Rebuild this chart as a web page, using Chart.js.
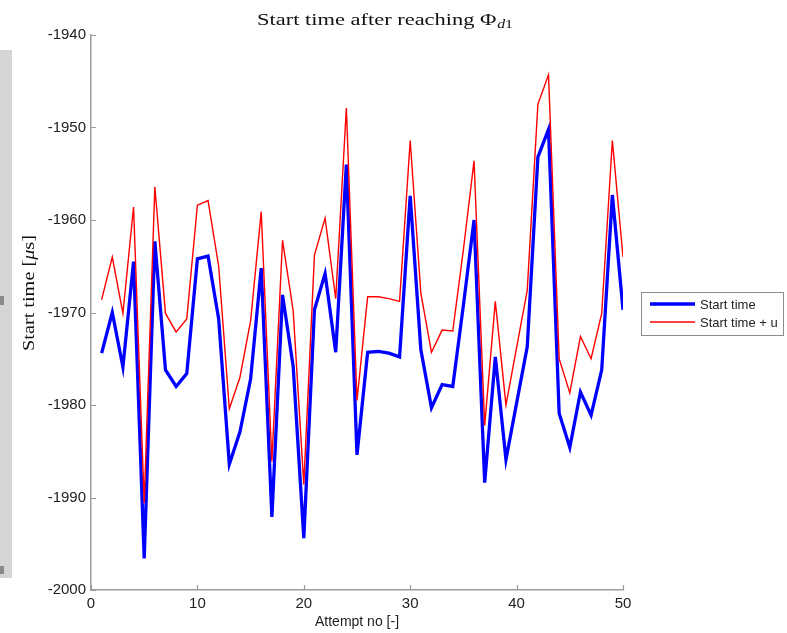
<!DOCTYPE html>
<html>
<head>
<meta charset="utf-8">
<script src="https://cdn.jsdelivr.net/npm/chart.js@4/dist/chart.umd.min.js"></script>
<style>
  html, body { margin: 0; padding: 0; background: #fff; }
  #wrap { position: relative; width: 787px; height: 633px; overflow: hidden; }
  #side { position: absolute; left: 0; top: 50px; width: 12px; height: 528px; background: #d5d5d5; }
  .mark { position: absolute; left: 0; width: 4px; background: #8a8a8a; }
  canvas { position: absolute; left: 0; top: 0; }
</style>
</head>
<body>
<div id="wrap">
  <div id="side"></div>
  <div class="mark" style="top:296px;height:9px;"></div>
  <div class="mark" style="top:566px;height:8px;"></div>
  <canvas id="chart" width="787" height="633"></canvas>
</div>
<script>
// Attempt numbers
const attempts = [1, 2, 3, 4, 5, 6, 7, 8, 9, 10,
                  11, 12, 13, 14, 15, 16, 17, 18, 19, 20,
                  21, 22, 23, 24, 25, 26, 27, 28, 29, 30,
                  31, 32, 33, 34, 35, 36, 37, 38, 39, 40,
                  41, 42, 43, 44, 45, 46, 47, 48, 49, 50];

// Start time [µs]
const startTime = [-1974.4, -1970.0, -1975.9, -1964.5, -1996.6, -1962.3, -1976.2, -1978.0, -1976.6, -1964.2,
                   -1963.9, -1970.7, -1986.4, -1982.9, -1977.2, -1965.2, -1992.1, -1968.1, -1975.8, -1994.4,
                   -1969.7, -1965.8, -1974.3, -1954.0, -1985.4, -1974.3, -1974.2, -1974.4, -1974.8, -1957.4,
                   -1974.0, -1980.3, -1977.8, -1978.0, -1969.2, -1960.0, -1988.4, -1974.8, -1985.9, -1979.8,
                   -1973.7, -1953.2, -1950.2, -1980.9, -1984.6, -1978.6, -1981.1, -1976.2, -1957.3, -1969.7];

// Start time + u [µs]
const startTimePlusU = [-1968.6, -1964.0, -1970.1, -1958.6, -1990.6, -1956.4, -1970.1, -1972.1, -1970.7, -1958.4,
                        -1957.9, -1965.0, -1980.4, -1977.0, -1970.9, -1959.1, -1986.1, -1962.2, -1969.8, -1988.6,
                        -1963.8, -1959.8, -1968.5, -1947.9, -1979.5, -1968.3, -1968.3, -1968.5, -1968.8, -1951.4,
                        -1967.9, -1974.3, -1971.9, -1972.0, -1963.2, -1953.6, -1982.2, -1968.8, -1980.0, -1973.8,
                        -1967.6, -1947.5, -1944.3, -1975.0, -1978.7, -1972.6, -1975.0, -1970.1, -1951.4, -1964.0];

const xTicks = [0, 10, 20, 30, 40, 50];
const yTicks = [-2000, -1990, -1980, -1970, -1960, -1950, -1940];

const seriesNames = ['Start time', 'Start time + u'];
const titleText = 'Start time after reaching \u03A6';
const xTitle = 'Attempt no [-]';

const axisColor = '#9c9c9c';
const sansFont = '"Liberation Sans", Arial, sans-serif';
const serifFont = '"Liberation Serif", "DejaVu Serif", serif';

const toPoints = (ys) => attempts.map((a, i) => ({ x: a, y: ys[i] }));

const decorPlugin = {
  id: 'decor',
  afterDraw(chart) {
    const ctx = chart.ctx;
    const xs = chart.scales.x, ys = chart.scales.y;
    const area = chart.chartArea;
    ctx.save();

    // inward tick marks
    ctx.strokeStyle = axisColor;
    ctx.lineWidth = 1.2;
    ctx.beginPath();
    xTicks.forEach(v => {
      const px = Math.round(xs.getPixelForValue(v)) + 0.5;
      ctx.moveTo(px, area.bottom);
      ctx.lineTo(px, area.bottom - 5);
    });
    yTicks.forEach(v => {
      const py = Math.round(ys.getPixelForValue(v)) + 0.5;
      ctx.moveTo(area.left, py);
      ctx.lineTo(area.left + 5, py);
    });
    ctx.stroke();

    // title, stretched horizontally to its printed width
    ctx.fillStyle = '#111';
    ctx.textBaseline = 'alphabetic';
    ctx.textAlign = 'left';
    const tSize = 17;
    ctx.font = tSize + 'px ' + serifFont;
    const tw = ctx.measureText(titleText).width;
    const subSize = 12;
    ctx.font = 'italic ' + subSize + 'px ' + serifFont;
    const dw = ctx.measureText('d').width;
    ctx.font = subSize + 'px ' + serifFont;
    const ow = ctx.measureText('1').width;
    const fullW = tw + 0.5 + dw + ow;
    ctx.translate(257, 25);
    ctx.scale(256 / fullW, 1);
    ctx.font = tSize + 'px ' + serifFont;
    ctx.fillText(titleText, 0, 0);
    ctx.font = 'italic ' + subSize + 'px ' + serifFont;
    ctx.fillText('d', tw + 0.5, 3);
    ctx.font = subSize + 'px ' + serifFont;
    ctx.fillText('1', tw + 0.5 + dw, 3);
    ctx.setTransform(1, 0, 0, 1, 0, 0);

    // y-axis title: "Start time [µs]" with italic µ
    const p1 = 'Start time [', p2 = '\u03BC', p3 = 's]';
    ctx.font = '17px ' + serifFont;
    const w1 = ctx.measureText(p1).width;
    ctx.font = 'italic 17px ' + serifFont;
    const w2 = ctx.measureText(p2).width;
    ctx.font = '17px ' + serifFont;
    const w3 = ctx.measureText(p3).width;
    const total = w1 + w2 + w3;
    const targetLen = 116;
    ctx.translate(34, 293);
    ctx.rotate(-Math.PI / 2);
    ctx.scale(targetLen / total, 1);
    let cx = -total / 2;
    ctx.font = '17px ' + serifFont;
    ctx.fillText(p1, cx, 0); cx += w1;
    ctx.font = 'italic 17px ' + serifFont;
    ctx.fillText(p2, cx, 0); cx += w2;
    ctx.font = '17px ' + serifFont;
    ctx.fillText(p3, cx, 0);
    ctx.setTransform(1, 0, 0, 1, 0, 0);

    // x-axis title
    ctx.font = '14px ' + sansFont;
    ctx.textAlign = 'center';
    ctx.textBaseline = 'middle';
    ctx.fillStyle = '#222';
    ctx.fillText(xTitle, (area.left + area.right) / 2, 622);

    // legend box
    const lx = 641, ly = 292, lw = 142, lh = 43;
    ctx.fillStyle = '#fff';
    ctx.fillRect(lx, ly, lw, lh);
    ctx.strokeStyle = '#8c8c8c';
    ctx.lineWidth = 1;
    ctx.strokeRect(lx + 0.5, ly + 0.5, lw, lh);
    const rows = [304, 322];
    chart.data.datasets.slice().sort((a, b) => a.legendRank - b.legendRank).forEach((ds, i) => {
      ctx.strokeStyle = ds.borderColor;
      ctx.lineWidth = ds.borderWidth;
      ctx.beginPath();
      ctx.moveTo(650, rows[i]);
      ctx.lineTo(695, rows[i]);
      ctx.stroke();
      ctx.fillStyle = '#222';
      ctx.font = '13px ' + sansFont;
      ctx.textAlign = 'left';
      ctx.textBaseline = 'middle';
      ctx.fillText(ds.label, 700, rows[i] + 1);
    });
    ctx.restore();
  }
};

new Chart(document.getElementById('chart'), {
  type: 'line',
  data: {
    datasets: [
      {
        label: seriesNames[0],
        data: toPoints(startTime),
        borderColor: '#0000ff',
        borderWidth: 3.3,
        pointRadius: 0,
        tension: 0,
        fill: false,
        order: 2,
        legendRank: 0
      },
      {
        label: seriesNames[1],
        data: toPoints(startTimePlusU),
        borderColor: '#ff0000',
        borderWidth: 1.4,
        pointRadius: 0,
        tension: 0,
        fill: false,
        order: 1,
        legendRank: 1
      }
    ]
  },
  options: {
    responsive: false,
    animation: false,
    events: [],
    layout: { padding: { left: 0, right: 164, top: 35, bottom: 0 } },
    plugins: {
      legend: { display: false },
      title: { display: false },
      tooltip: { enabled: false }
    },
    scales: {
      x: {
        type: 'linear',
        min: 0,
        max: 50,
        afterBuildTicks(scale) { scale.ticks = xTicks.map(v => ({ value: v })); },
        ticks: { color: '#222', font: { family: sansFont, size: 15 }, padding: 5, maxRotation: 0,
                 callback: (v) => String(v) },
        grid: { drawOnChartArea: false, drawTicks: false },
        border: { color: axisColor, width: 1.5 },
        afterFit(scale) { scale.height = 43; }
      },
      y: {
        type: 'linear',
        min: -2000,
        max: -1940,
        afterBuildTicks(scale) { scale.ticks = yTicks.map(v => ({ value: v })); },
        ticks: { color: '#222', font: { family: sansFont, size: 15 }, padding: 5,
                 callback: (v) => String(v) },
        grid: { drawOnChartArea: false, drawTicks: false },
        border: { color: axisColor, width: 1.5 },
        afterFit(scale) { scale.width = 91; }
      }
    }
  },
  plugins: [decorPlugin]
});
</script>
</body>
</html>
